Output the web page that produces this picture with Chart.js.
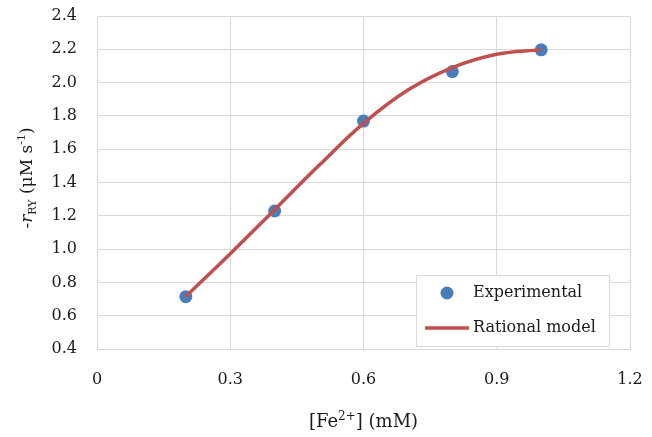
<!DOCTYPE html>
<html lang="en">
<head>
    <meta charset="UTF-8">
    <title>Rate vs Fe2+</title>
    <style>
        html, body { margin: 0; padding: 0; background: #fff; }
        #chart { display: block; }
    </style>
    <script src="https://cdn.jsdelivr.net/npm/chart.js"></script>
</head>
<body>
    <canvas id="chart" width="652" height="437"></canvas>
    <script>
        // experimental points
        const feConc = [0.2, 0.4, 0.6, 0.8, 1.0];
        const rateExp = [0.714, 1.229, 1.769, 2.066, 2.197];

        // rational model curve
        const modelConc = [0.2, 0.3, 0.4, 0.5, 0.6, 0.7, 0.8, 0.9, 1.0];
        const modelRate = [0.715, 0.972, 1.237, 1.503, 1.755, 1.955, 2.090, 2.170, 2.198];

        const legendLabels = ["Experimental", "Rational model"];

        const textColor = "#1a1a1a";
        const gridColor = "#d9d9d9";
        const blue = "#4a7ebb";
        const red = "#c0504d";
        const serif = "'DejaVu Serif', serif";

        const titlesAndLegend = {
            id: "titlesAndLegend",
            afterDraw(chart) {
                const ctx = chart.ctx;
                const area = chart.chartArea;
                ctx.save();
                ctx.fillStyle = textColor;
                ctx.textBaseline = "alphabetic";

                // x title: [Fe2+] (mM)
                const xParts = [
                    { t: "[Fe", f: "18px " + serif, dy: 0 },
                    { t: "2+", f: "12px " + serif, dy: -7 },
                    { t: "] (mM)", f: "18px " + serif, dy: 0 }
                ];
                let w = 0;
                xParts.forEach(p => { ctx.font = p.f; w += ctx.measureText(p.t).width; });
                let x = (area.left + area.right) / 2 - w / 2;
                xParts.forEach(p => {
                    ctx.font = p.f;
                    ctx.textAlign = "left";
                    ctx.fillText(p.t, x, 427 + p.dy);
                    x += ctx.measureText(p.t).width;
                });

                // y title: -r_RY (µM s^-1)
                const yParts = [
                    { t: "-", f: "17px " + serif, dy: 0 },
                    { t: "r", f: "italic 17px " + serif, dy: 0 },
                    { t: "RY", f: "11px " + serif, dy: 4 },
                    { t: " (\u03bcM s", f: "17px " + serif, dy: 0 },
                    { t: "-1", f: "11px " + serif, dy: -7 },
                    { t: ")", f: "17px " + serif, dy: 0 }
                ];
                w = 0;
                yParts.forEach(p => { ctx.font = p.f; w += ctx.measureText(p.t).width; });
                ctx.translate(32, 178);
                ctx.rotate(-Math.PI / 2);
                x = -w / 2;
                yParts.forEach(p => {
                    ctx.font = p.f;
                    ctx.textAlign = "left";
                    ctx.fillText(p.t, x, p.dy);
                    x += ctx.measureText(p.t).width;
                });
                ctx.restore();

                // legend box inside the plot, bottom right
                ctx.save();
                const bx = 416, by = 275, bw = 193, bh = 71;
                ctx.fillStyle = "#fff";
                ctx.fillRect(bx, by, bw, bh);
                ctx.strokeStyle = gridColor;
                ctx.lineWidth = 1;
                ctx.strokeRect(bx + 0.5, by + 0.5, bw, bh);

                ctx.fillStyle = blue;
                ctx.beginPath();
                ctx.arc(447, 293, 6.5, 0, Math.PI * 2);
                ctx.fill();

                ctx.strokeStyle = red;
                ctx.lineWidth = 3.5;
                ctx.beginPath();
                ctx.moveTo(425, 328);
                ctx.lineTo(469, 328);
                ctx.stroke();

                ctx.fillStyle = textColor;
                ctx.font = "16px " + serif;
                ctx.textAlign = "left";
                ctx.textBaseline = "middle";
                ctx.fillText(legendLabels[0], 473, 293);
                ctx.fillText(legendLabels[1], 473, 328);
                ctx.restore();
            }
        };

        const chart = new Chart(document.getElementById("chart"), {
            type: "scatter",
            data: {
                datasets: [
                    {
                        label: legendLabels[0],
                        data: feConc.map((c, i) => ({ x: c, y: rateExp[i] })),
                        backgroundColor: blue,
                        borderColor: blue,
                        pointRadius: 6.5,
                        pointBorderWidth: 0,
                        order: 1
                    },
                    {
                        type: "line",
                        label: legendLabels[1],
                        data: modelConc.map((c, i) => ({ x: c, y: modelRate[i] })),
                        borderColor: red,
                        borderWidth: 3.5,
                        pointRadius: 0,
                        fill: false,
                        tension: 0.4,
                        order: 0
                    }
                ]
            },
            options: {
                responsive: false,
                animation: false,
                devicePixelRatio: 1,
                layout: { padding: { left: 0, right: 22, top: 16, bottom: 0 } },
                plugins: {
                    legend: { display: false },
                    tooltip: { enabled: false }
                },
                scales: {
                    x: {
                        type: "linear",
                        min: 0,
                        max: 1.2,
                        ticks: {
                            stepSize: 0.3,
                            padding: 21,
                            color: textColor,
                            font: { family: serif, size: 16 },
                            maxRotation: 0
                        },
                        grid: { color: gridColor, drawTicks: false },
                        border: { color: gridColor },
                        afterFit(scale) {
                            scale.height = 88;
                            scale.paddingLeft = 0;
                            scale.paddingRight = 0;
                        }
                    },
                    y: {
                        min: 0.4,
                        max: 2.4,
                        ticks: {
                            stepSize: 0.2,
                            padding: 20,
                            color: textColor,
                            font: { family: serif, size: 16 },
                            callback: v => v.toFixed(1)
                        },
                        grid: { color: gridColor, drawTicks: false },
                        border: { color: gridColor },
                        afterFit(scale) {
                            scale.width = 97;
                            scale.paddingTop = 0;
                            scale.paddingBottom = 0;
                        }
                    }
                }
            },
            plugins: [titlesAndLegend]
        });
    </script>
</body>
</html>
